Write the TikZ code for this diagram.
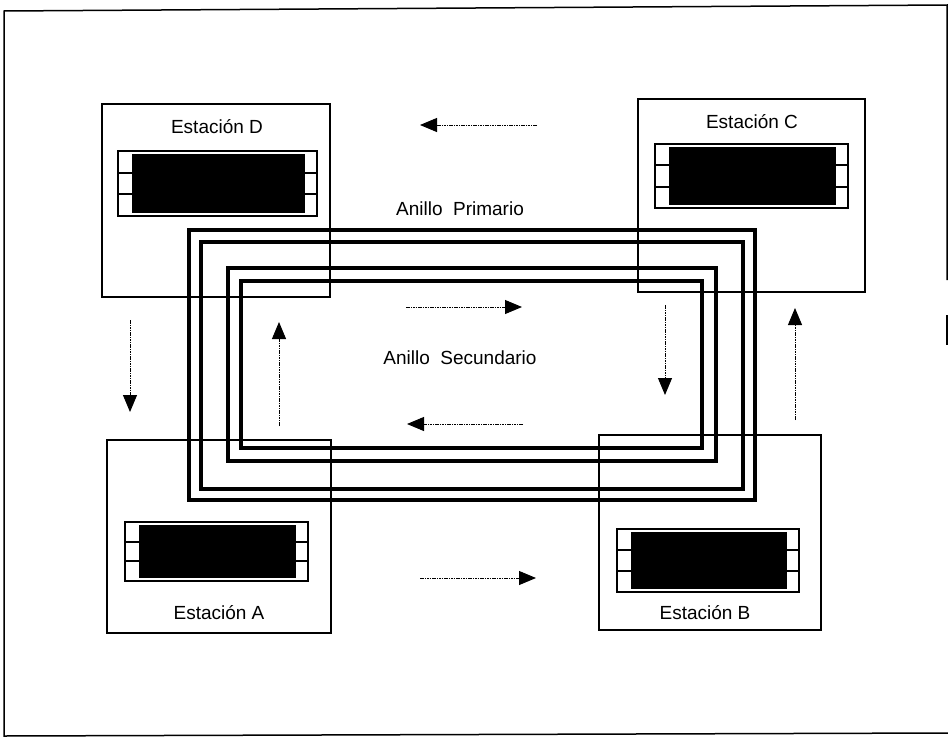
\documentclass[tikz,border=0pt]{standalone}
\usepackage{fontspec}
\setmainfont{Liberation Sans}
\usetikzlibrary{arrows.meta}
\tikzset{
  frameline/.style={line width=1.5pt},
  boxline/.style={line width=2.1pt},
  ringline/.style={line width=3.2pt},
  dispframe/.style={line width=1.7pt},
  flowarrow/.style={line width=1pt, dash pattern=on 1.6pt off 0.8pt,
     -{Triangle[length=17pt,width=14pt]}},
  lbl/.style={font=\fontsize{19}{22}\selectfont, inner sep=0pt},
  station/.style={draw, boxline, rectangle, anchor=north west, inner sep=0pt}
}
\newcommand{\stdisp}[4]{%
  \draw[dispframe] (#1,#2) rectangle (#3,#4);
  \fill (#1+14,#2+3) rectangle (#3-12,#4-3);
  \draw[dispframe] (#1,{#2+(#4-#2)/3}) -- (#1+14,{#2+(#4-#2)/3});
  \draw[dispframe] (#1,{#2+2*(#4-#2)/3}) -- (#1+14,{#2+2*(#4-#2)/3});
  \draw[dispframe] (#3-12,{#2+(#4-#2)/3}) -- (#3,{#2+(#4-#2)/3});
  \draw[dispframe] (#3-12,{#2+2*(#4-#2)/3}) -- (#3,{#2+2*(#4-#2)/3});
}
\begin{document}
\begin{tikzpicture}[x=1pt,y=-1pt]
\useasboundingbox (0,0) rectangle (948,739);
% outer frame
\draw[frameline] (947,280) -- (947,5) -- (4,11) -- (4,736) -- (948,733);
\draw[frameline] (947,315) -- (947,345);
% stations
\node[station, minimum width=228pt, minimum height=193pt] (stD) at (101,103) {};
\node[station, minimum width=227pt, minimum height=193pt] (stC) at (637,98) {};
\node[station, minimum width=224pt, minimum height=193pt] (stA) at (106,439) {};
\node[station, minimum width=222pt, minimum height=195pt] (stB) at (598,434) {};
% station labels
\node[lbl] (lD) at (217,127) {Estación D};
\node[lbl] (lC) at (752,122) {Estación C};
\node[lbl] (lA) at (219,613) {Estación A};
\node[lbl] (lB) at (705,613) {Estación B};
% displays
\stdisp{118}{151}{317}{216}
\stdisp{655}{144}{848}{208}
\stdisp{125}{522}{308}{581}
\stdisp{617}{529}{799}{592}
% rings
\draw[ringline] (189,230) rectangle (755,500);
\draw[ringline] (201,242) rectangle (743,489);
\draw[ringline] (228,268) rectangle (716,461);
\draw[ringline] (241,281) rectangle (702,448);
% ring labels
\node[lbl] (lP) at (460,209) {Anillo\ \ Primario};
\node[lbl] (lS) at (460,358) {Anillo\ \ Secundario};
% outer arrows
\coordinate (t1) at (537,125); \coordinate (t2) at (420,125);
\coordinate (l1) at (130,320); \coordinate (l2) at (130,412);
\coordinate (b1) at (420,578); \coordinate (b2) at (536,578);
\coordinate (r1) at (795,420); \coordinate (r2) at (795,308);
\draw[flowarrow] (t1) -- (t2);
\draw[flowarrow] (l1) -- (l2);
\draw[flowarrow] (b1) -- (b2);
\draw[flowarrow] (r1) -- (r2);
% inner arrows
\coordinate (it1) at (406,307); \coordinate (it2) at (522,307);
\coordinate (ir1) at (665,305); \coordinate (ir2) at (665,395);
\coordinate (ib1) at (523,424); \coordinate (ib2) at (407,424);
\coordinate (il1) at (279,426); \coordinate (il2) at (279,322);
\draw[flowarrow] (it1) -- (it2);
\draw[flowarrow] (ir1) -- (ir2);
\draw[flowarrow] (ib1) -- (ib2);
\draw[flowarrow] (il1) -- (il2);
\end{tikzpicture}
\end{document}
